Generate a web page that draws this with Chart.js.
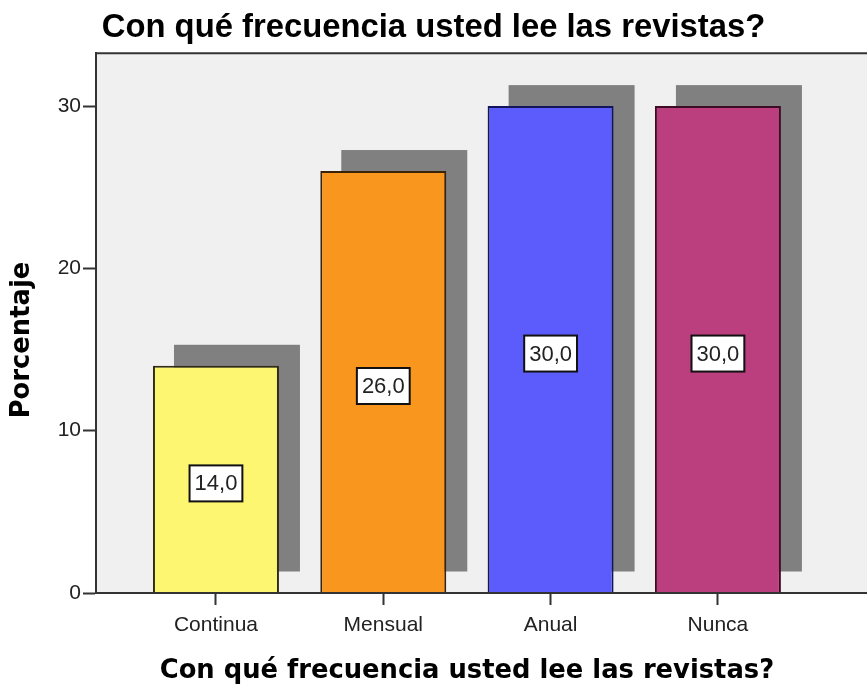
<!DOCTYPE html>
<html>
<head>
<meta charset="utf-8">
<script src="https://cdn.jsdelivr.net/npm/chart.js@4"></script>
<style>
  body { margin: 0; background: #fff; }
</style>
</head>
<body>
<canvas id="frecuenciaChart" width="867" height="684"></canvas>
<script>
// datos del gráfico
var categorias = ["Continua", "Mensual", "Anual", "Nunca"];
var porcentajes = [14.0, 26.0, 30.0, 30.0];
var ticksY = [0, 10, 20, 30];
var coloresBarras = ["#fdf670", "#f8961e", "#5b5cfb", "#bb3e7e"];
var bordesBarras = ["#2e2c14", "#3a2208", "#14145a", "#3c0c24"];
var titulo = "Con qué frecuencia usted lee las revistas?";
var tituloY = "Porcentaje";

var fuenteTicks = { family: "Liberation Sans", size: 21 };

// fondo gris, sombras, etiquetas y títulos de ejes
var decorado = {
    id: "decorado",
    beforeDraw: function (chart) {
        var a = chart.chartArea, c = chart.ctx;
        c.save();
        c.fillStyle = "#f0f0f0";
        c.fillRect(a.left, a.top, a.right - a.left, a.bottom - a.top);
        c.restore();
    },
    beforeDatasetsDraw: function (chart) {
        var c = chart.ctx;
        c.save();
        c.fillStyle = "#808080";
        chart.getDatasetMeta(0).data.forEach(function (bar) {
            var w = bar.width;
            c.fillRect(bar.x - w / 2 + 21, bar.y - 21, w, bar.base - bar.y);
        });
        c.restore();
    },
    afterDatasetsDraw: function (chart) {
        var c = chart.ctx, a = chart.chartArea;
        var y = chart.scales.y, x = chart.scales.x;
        c.save();
        // borde superior del área
        c.strokeStyle = "#333";
        c.lineWidth = 2;
        c.beginPath();
        c.moveTo(a.left, a.top);
        c.lineTo(a.right, a.top);
        c.stroke();

        // etiquetas de valor
        c.font = "22px 'Liberation Sans'";
        c.textAlign = "center";
        c.textBaseline = "middle";
        chart.getDatasetMeta(0).data.forEach(function (bar, i) {
            var txt = porcentajes[i].toFixed(1).replace(".", ",");
            var tw = c.measureText(txt).width;
            var bw = tw + 10, bh = 36;
            var cy = y.getPixelForValue(porcentajes[i] / 2) + 4;
            c.fillStyle = "#fff";
            c.fillRect(bar.x - bw / 2, cy - bh / 2, bw, bh);
            c.strokeStyle = "#111";
            c.lineWidth = 2;
            c.strokeRect(bar.x - bw / 2, cy - bh / 2, bw, bh);
            c.fillStyle = "#222";
            c.fillText(txt, bar.x, cy + 1);
        });

        // títulos de ejes
        c.fillStyle = "#000";
        c.font = "bold 25.8px 'DejaVu Sans'";
        c.textAlign = "center";
        c.textBaseline = "alphabetic";
        var cx = (x.getPixelForValue(0) + x.getPixelForValue(categorias.length - 1)) / 2;
        c.fillText(titulo, cx, 678);

        c.translate(28.5, 340);
        c.rotate(-Math.PI / 2);
        c.fillText(tituloY, 0, 0);
        c.restore();
    }
};

var ctx = document.getElementById("frecuenciaChart");
var frecuenciaChart = new Chart(ctx, {
    type: "bar",
    data: {
        datasets: [
            {
                data: categorias.map(function (cat, i) { return { x: i, y: porcentajes[i] }; }),
                backgroundColor: coloresBarras,
                borderColor: bordesBarras,
                borderWidth: 2,
                barPercentage: 0.753,
                categoryPercentage: 1,
            }
        ]
    },
    options: {
        responsive: false,
        animation: false,
        layout: { padding: 0 },
        plugins: {
            legend: { display: false },
            tooltip: { enabled: false },
            title: {
                display: true,
                text: titulo,
                color: "#000",
                font: { family: "Liberation Sans", size: 32.8, weight: "bold" },
                padding: { top: 8, bottom: 6 },
            },
        },
        scales: {
            x: {
                type: "linear",
                offset: false,
                min: -0.717,
                max: 3.891,
                afterBuildTicks: function (s) {
                    s.ticks = categorias.map(function (cat, i) { return { value: i }; });
                },
                afterFit: function (s) { s.height = 91; },
                ticks: {
                    callback: function (v) { return categorias[v]; },
                    font: fuenteTicks,
                    color: "#222",
                    padding: 8,
                    maxRotation: 0,
                    autoSkip: false,
                },
                grid: { offset: false, drawOnChartArea: false, drawTicks: true, tickLength: 12, tickColor: "#333", tickWidth: 2 },
                border: { display: true, color: "#333", width: 2, z: 1 },
            },
            y: {
                min: 0,
                max: 33.25,
                afterBuildTicks: function (s) {
                    s.ticks = ticksY.map(function (v) { return { value: v }; });
                },
                afterFit: function (s) { s.width = 96; },
                ticks: { font: fuenteTicks, color: "#222", padding: 2 },
                grid: { drawOnChartArea: false, drawTicks: true, tickLength: 13, tickColor: "#333", tickWidth: 2 },
                border: { display: true, color: "#333", width: 2, z: 1 },
            },
        },
    },
    plugins: [decorado],
});
</script>
</body>
</html>
